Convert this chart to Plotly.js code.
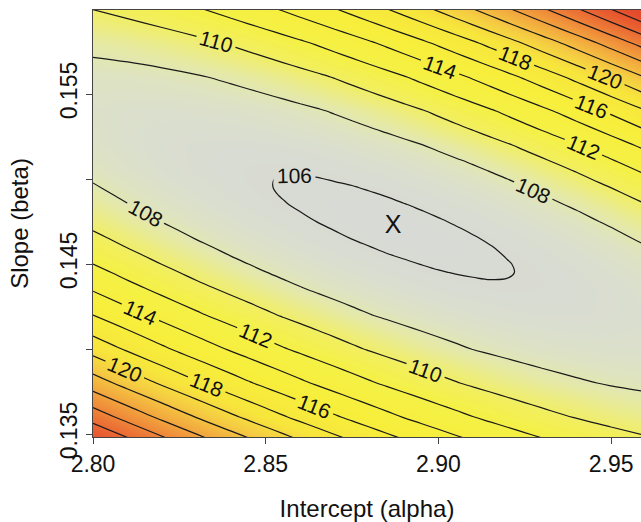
<!DOCTYPE html>
<html><head><meta charset="utf-8">
<script src="https://cdn.plot.ly/plotly-3.0.1.min.js"></script>
<style>body{margin:0;background:#fff}#c{width:641px;height:522px}</style>
</head><body><div id="c"></div>
<script>
// Grid of intercept (alpha) and slope (beta) values
const alphas=[2.80,2.81,2.82,2.83,2.84,2.845,2.85,2.855,2.86,2.865,2.87,2.875,2.88,2.885,2.89,2.895,2.90,2.905,2.91,2.915,2.92,2.925,2.93,2.94,2.95,2.96];
const betas=[0.134,0.136,0.138,0.140,0.142,0.1435,0.144,0.1445,0.145,0.1455,0.146,0.1465,0.147,0.1475,0.148,0.1485,0.149,0.1495,0.150,0.1505,0.151,0.152,0.154,0.156,0.158,0.160];
// Surface values (one row per beta)
const sse=[
[131.75,129.76,127.86,126.05,124.33,123.50,122.69,121.91,121.15,120.41,119.69,119.00,118.33,117.68,117.06,116.46,115.89,115.33,114.81,114.30,113.82,113.36,112.93,112.14,111.45,110.85],
[127.15,125.31,123.57,121.92,120.35,119.61,118.88,118.18,117.50,116.85,116.22,115.61,115.03,114.47,113.93,113.42,112.93,112.47,112.03,111.61,111.22,110.85,110.51,109.91,109.40,108.99],
[122.98,121.30,119.72,118.23,116.84,116.17,115.54,114.92,114.33,113.76,113.22,112.70,112.20,111.73,111.28,110.86,110.46,110.09,109.74,109.42,109.12,108.85,108.60,108.19,107.87,107.66],
[119.25,117.75,116.33,115.01,113.79,113.22,112.66,112.14,111.64,111.16,110.70,110.27,109.87,109.49,109.14,108.81,108.51,108.23,107.97,107.75,107.55,107.37,107.22,107.00,106.89,106.88],
[115.99,114.66,113.42,112.28,111.23,110.75,110.29,109.85,109.44,109.06,108.70,108.36,108.05,107.77,107.51,107.28,107.07,106.89,106.73,106.61,106.50,106.43,106.38,106.36,106.45,106.65],
[113.86,112.66,111.55,110.55,109.64,109.23,108.84,108.47,108.13,107.82,107.53,107.27,107.03,106.82,106.64,106.48,106.35,106.24,106.16,106.11,106.08,106.08,106.11,106.25,106.50,106.85],
[113.21,112.05,110.99,110.03,109.18,108.78,108.42,108.08,107.76,107.47,107.21,106.97,106.76,106.57,106.41,106.28,106.17,106.09,106.04,106.01,106.01,106.04,106.09,106.28,106.59,107.00],
[112.59,111.48,110.46,109.55,108.74,108.37,108.03,107.71,107.42,107.16,106.92,106.71,106.52,106.36,106.22,106.12,106.03,105.98,105.95,105.95,105.98,106.03,106.11,106.36,106.71,107.18],
[112.00,110.93,109.97,109.10,108.34,108.00,107.68,107.39,107.12,106.88,106.66,106.48,106.31,106.18,106.07,105.99,105.93,105.90,105.90,105.93,105.98,106.06,106.17,106.46,106.87,107.39],
[111.44,110.42,109.50,108.69,107.97,107.65,107.36,107.09,106.85,106.63,106.44,106.28,106.14,106.03,105.95,105.89,105.86,105.86,105.88,105.94,106.02,106.12,106.26,106.61,107.07,107.64],
[110.92,109.94,109.07,108.30,107.64,107.34,107.07,106.83,106.61,106.42,106.26,106.12,106.01,105.92,105.87,105.83,105.83,105.85,105.90,105.98,106.09,106.22,106.38,106.79,107.30,107.93],
[110.42,109.50,108.67,107.95,107.33,107.06,106.82,106.60,106.41,106.24,106.10,105.99,105.91,105.85,105.82,105.81,105.83,105.88,105.96,106.06,106.20,106.36,106.54,107.00,107.58,108.26],
[109.96,109.08,108.31,107.63,107.07,106.82,106.60,106.41,106.24,106.10,105.99,105.90,105.84,105.81,105.80,105.82,105.87,105.95,106.05,106.18,106.34,106.53,106.75,107.26,107.89,108.63],
[109.53,108.70,107.97,107.35,106.83,106.61,106.42,106.25,106.11,105.99,105.90,105.84,105.81,105.80,105.82,105.87,105.95,106.05,106.18,106.34,106.53,106.74,106.98,107.55,108.24,109.04],
[109.13,108.35,107.68,107.10,106.63,106.43,106.27,106.12,106.01,105.92,105.86,105.82,105.81,105.83,105.88,105.96,106.06,106.19,106.35,106.53,106.75,106.99,107.26,107.88,108.62,109.48],
[108.77,108.04,107.41,106.88,106.46,106.29,106.15,106.03,105.94,105.88,105.85,105.84,105.86,105.90,105.98,106.08,106.21,106.36,106.55,106.76,107.00,107.27,107.57,108.25,109.05,109.96],
[108.44,107.76,107.18,106.70,106.33,106.19,106.07,105.98,105.92,105.88,105.87,105.89,105.93,106.01,106.11,106.23,106.39,106.57,106.79,107.03,107.30,107.59,107.92,108.66,109.51,110.48],
[108.14,107.51,106.98,106.55,106.24,106.12,106.03,105.96,105.92,105.91,105.93,105.97,106.05,106.15,106.27,106.43,106.61,106.82,107.06,107.33,107.63,107.96,108.31,109.11,110.02,111.05],
[107.88,107.29,106.81,106.44,106.17,106.08,106.02,105.98,105.97,105.98,106.03,106.10,106.20,106.32,106.48,106.66,106.87,107.11,107.38,107.68,108.00,108.35,108.74,109.59,110.56,111.65],
[107.65,107.11,106.69,106.36,106.15,106.08,106.04,106.03,106.04,106.09,106.16,106.26,106.38,106.54,106.72,106.93,107.17,107.44,107.73,108.06,108.41,108.79,109.20,110.11,111.14,112.29],
[107.45,106.97,106.59,106.32,106.16,106.12,106.10,106.12,106.16,106.23,106.33,106.45,106.61,106.79,107.00,107.24,107.50,107.80,108.12,108.48,108.86,109.27,109.71,110.68,111.76,112.97],
[107.16,106.78,106.51,106.34,106.28,106.30,106.34,106.40,106.50,106.62,106.78,106.96,107.17,107.40,107.67,107.96,108.29,108.64,109.02,109.43,109.87,110.34,110.84,111.92,113.13,114.45],
[107.01,106.83,106.77,106.82,106.97,107.10,107.24,107.42,107.63,107.86,108.13,108.42,108.74,109.09,109.47,109.88,110.32,110.79,111.28,111.81,112.37,112.95,113.57,114.90,116.34,117.91],
[107.42,107.46,107.61,107.88,108.26,108.49,108.76,109.05,109.37,109.71,110.09,110.50,110.94,111.40,111.90,112.43,112.98,113.57,114.19,114.83,115.51,116.22,116.96,118.53,120.22,122.04],
[108.42,108.68,109.06,109.55,110.16,110.51,110.88,111.29,111.73,112.19,112.69,113.21,113.77,114.36,114.97,115.62,116.30,117.01,117.74,118.51,119.31,120.15,121.01,122.83,124.78,126.85],
[110.03,110.52,111.12,111.84,112.69,113.15,113.65,114.17,114.73,115.31,115.93,116.58,117.26,117.96,118.70,119.47,120.28,121.11,121.97,122.87,123.80,124.75,125.75,127.82,130.03,132.36]
];
const minAlpha=[2.8869], minBeta=[0.14718];
const xTicks=[2.80,2.85,2.90,2.95], xTickText=['2.80','2.85','2.90','2.95'];
const yTicks=[0.135,0.14,0.145,0.15,0.155], yTickText=['0.135','','0.145','','0.155'];

const lo=105.8, hi=131;
const stops=[[105.8,'#d8dad5'],[106.6,'#dadecf'],[107.5,'#dee3c2'],[108.4,'#e5e9a6'],[109.3,'#ecec80'],[110.3,'#f2ef5c'],[111.8,'#f5f046'],[115,'#f7ef3c'],[119,'#f7e53c'],[121,'#f5cf42'],[123,'#f3b23f'],[125,'#f0943b'],[127,'#ec7636'],[129,'#e85d30'],[131,'#e44b2c']];
const cs=stops.map(s=>[(s[0]-lo)/(hi-lo),s[1]]);
const F='Liberation Sans, Arial, sans-serif';
Plotly.newPlot('c',[
 {type:'contour',x:alphas,y:betas,z:sse,zmin:lo,zmax:hi,colorscale:cs,showscale:false,hoverinfo:'skip',
  contours:{start:106,end:130,size:2,coloring:'heatmap',showlabels:true,labelfont:{family:F,size:21,color:'#111'}},
  line:{color:'#1a1a1a',width:1.2,smoothing:1.1}},
 {type:'scatter',mode:'text',x:minAlpha,y:minBeta,text:['X'],textfont:{family:F,size:25,color:'#111'},hoverinfo:'skip',showlegend:false}
],{
 width:641,height:522,margin:{l:93,r:0,t:10,b:85},paper_bgcolor:'#fff',plot_bgcolor:'#fff',showlegend:false,
 xaxis:{range:[2.80,2.95866],tickvals:xTicks,ticktext:xTickText,ticks:'outside',ticklen:6,tickcolor:'#444',
   showline:true,linecolor:'#444',mirror:true,showgrid:false,zeroline:false,tickfont:{family:F,size:23,color:'#111'},
   title:{text:'Intercept (alpha)',font:{family:F,size:24,color:'#111'},standoff:24}},
 yaxis:{range:[0.134824,0.159941],tickvals:yTicks,ticktext:yTickText,tickangle:-90,ticks:'outside',ticklen:6,tickcolor:'#444',
   showline:true,linecolor:'#444',showgrid:false,zeroline:false,tickfont:{family:F,size:23,color:'#111'},
   title:{text:'Slope (beta)',font:{family:F,size:24,color:'#111'},standoff:20}}
},{displayModeBar:false,staticPlot:true});
</script></body></html>
